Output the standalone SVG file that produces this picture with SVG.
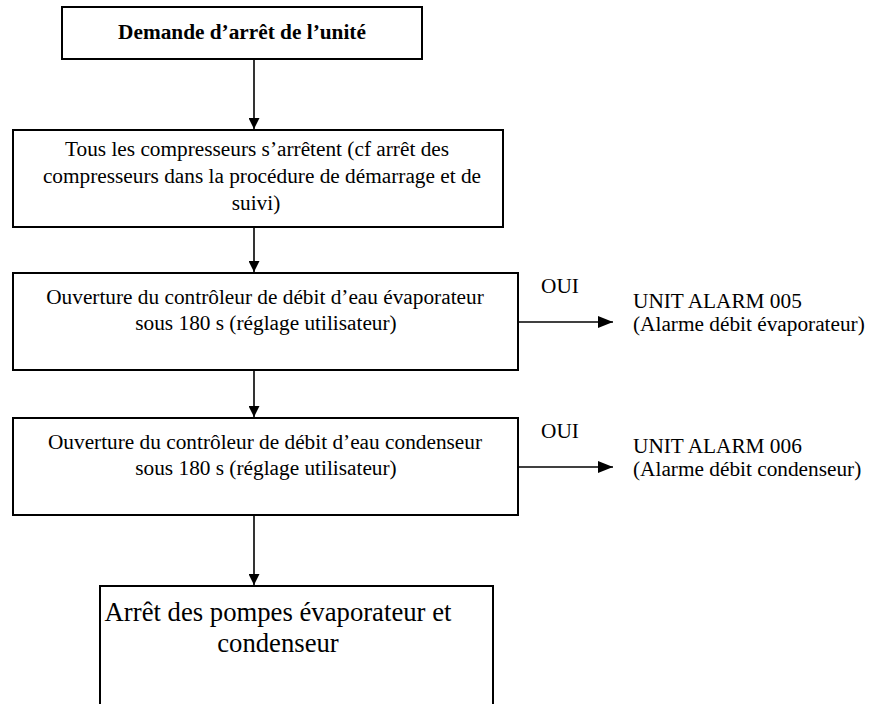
<svg xmlns="http://www.w3.org/2000/svg" width="873" height="704" viewBox="0 0 873 704">
<style>
.box{fill:#fff;stroke:#000;stroke-width:2}
text{font-family:'Liberation Serif','Times New Roman',Times,serif;font-size:21.3px;fill:#000}
.c{text-anchor:middle}
.b{font-weight:bold}
.big{font-size:26.7px}
.ln{stroke:#000;stroke-width:1.6;fill:none}
</style>
<defs>
<marker id="ah" viewBox="0 0 11 11" refX="11" refY="5.5" markerWidth="11" markerHeight="11" markerUnits="userSpaceOnUse" orient="auto">
<path d="M0,0 L11,5.5 L0,11 Z" fill="#000"/>
</marker>
<marker id="ahb" viewBox="0 0 15 12" refX="15" refY="6" markerWidth="15" markerHeight="12" markerUnits="userSpaceOnUse" orient="auto">
<path d="M0,0 L15,6 L0,12 Z" fill="#000"/>
</marker>
</defs>
<rect width="873" height="704" fill="#fff"/>
<g id="connectors">
<line class="ln" x1="254" y1="59" x2="254" y2="129" marker-end="url(#ah)"/>
<line class="ln" x1="254" y1="227" x2="254" y2="272" marker-end="url(#ah)"/>
<line class="ln" x1="254" y1="370" x2="254" y2="417" marker-end="url(#ah)"/>
<line class="ln" x1="254" y1="515" x2="254" y2="585" marker-end="url(#ah)"/>
<line class="ln" x1="518" y1="322" x2="613" y2="322" marker-end="url(#ahb)"/>
<line class="ln" x1="518" y1="467" x2="613" y2="467" marker-end="url(#ahb)"/>
</g>
<g id="n1">
<rect class="box" x="62" y="7" width="360" height="52"/>
<text class="c b" x="242" y="39">Demande d’arrêt de l’unité</text>
</g>
<g id="n2">
<rect class="box" x="13" y="130" width="490" height="97"/>
<text class="c" x="257" y="156">Tous les compresseurs s’arrêtent (cf arrêt des</text>
<text class="c" x="262" y="183">compresseurs dans la procédure de démarrage et de</text>
<text class="c" x="256" y="210">suivi)</text>
</g>
<g id="n3">
<rect class="box" x="13" y="273" width="505" height="97"/>
<text class="c" x="265" y="304">Ouverture du contrôleur de débit d’eau évaporateur</text>
<text class="c" x="266" y="330">sous 180 s (réglage utilisateur)</text>
</g>
<g id="n4">
<rect class="box" x="13" y="418" width="505" height="97"/>
<text class="c" x="265" y="449">Ouverture du contrôleur de débit d’eau condenseur</text>
<text class="c" x="266" y="475">sous 180 s (réglage utilisateur)</text>
</g>
<g id="n5">
<rect class="box" x="100" y="586" width="393" height="140"/>
<text class="c big" x="278" y="621">Arrêt des pompes évaporateur et</text>
<text class="c big" x="278" y="652">condenseur</text>
</g>
<g id="a1">
<text x="541" y="293">OUI</text>
<text x="633" y="308">UNIT ALARM 005</text>
<text x="633" y="331">(Alarme débit évaporateur)</text>
</g>
<g id="a2">
<text x="541" y="438">OUI</text>
<text x="633" y="453">UNIT ALARM 006</text>
<text x="633" y="476">(Alarme débit condenseur)</text>
</g>
</svg>
